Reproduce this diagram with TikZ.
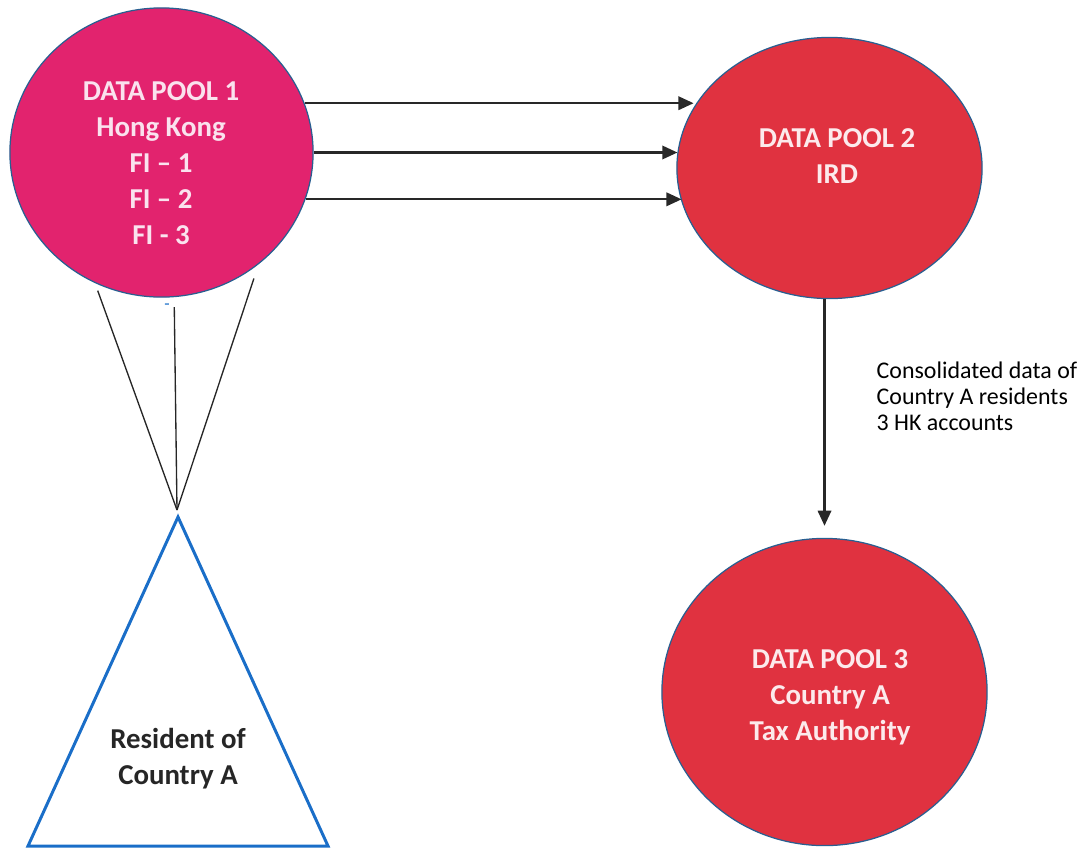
\documentclass[tikz,border=0pt]{standalone}
\usepackage{fontspec}
\setmainfont{Carlito}
\usetikzlibrary{shapes.geometric,arrows.meta}
\definecolor{poolpink}{RGB}{226,35,110}
\definecolor{poolred}{RGB}{224,50,64}
\definecolor{poolrim}{RGB}{40,95,145}
\definecolor{pinktext}{RGB}{250,226,238}
\definecolor{redtext}{RGB}{252,234,236}
\definecolor{triblue}{RGB}{26,110,200}
\definecolor{inkgray}{RGB}{40,40,40}
\tikzset{
  pool/.style={ellipse, draw=poolrim, line width=0.35pt, inner sep=0pt},
  pooltext/.style={align=center, inner sep=0pt, font=\fontsize{8.2}{10.2}\selectfont\bfseries},
  feed/.style={draw=inkgray, line width=0.65pt, -{Triangle[length=4.3pt,width=3.8pt]}},
  fan/.style={draw=black!85, line width=0.38pt}
}

\begin{document}
\begin{tikzpicture}[x=0.01cm, y=-0.01cm]
\useasboundingbox (0,0) rectangle (1091,848);

% the three data pools
\node[pool, fill=poolpink, minimum width=3.03cm, minimum height=2.89cm] (pool1) at (161.5,152.5) {};
\node[pool, fill=poolred, minimum width=3.05cm, minimum height=2.61cm] (pool2) at (829.5,168) {};
\node[pool, fill=poolred, minimum width=3.25cm, minimum height=3.07cm] (pool3) at (824.5,692) {};

\node[pooltext, text=pinktext] (txt1) at (161,163) {DATA POOL 1\\Hong Kong\\FI – 1\\FI – 2\\FI - 3};
\node[pooltext, text=redtext] (txt2) at (837,156) {DATA POOL 2\\IRD};
\node[pooltext, text=redtext] (txt3) at (830,697) {DATA POOL 3\\Country A\\Tax Authority};

% reporting to IRD
\draw[feed] (pool1.19) -- (pool1.19 -| pool2.156);
\draw[feed] (pool1.0) -- (pool1.0 -| pool2.174);
\draw[feed] (pool1.-18) -- (pool1.-18 -| pool2.193);

% exchange to country A
\draw[feed, shorten >=0.12cm] (pool3.north |- pool2.south) -- (pool3.north);
\node[align=left, anchor=north west, inner sep=0pt, font=\fontsize{6.8}{7.4}\selectfont] (note) at (876,361)
  {Consolidated data of\\Country A residents\\3 HK accounts};

% resident
\coordinate (meet) at (177,510);
\coordinate (top) at (178,517);
\coordinate (baseR) at (328,846);
\coordinate (baseL) at (28,846);
\draw[fan, shorten <=0.08cm] (pool1.243) -- (meet);
\draw[fan, shorten <=0.1cm] (pool1.275) -- (meet);
\draw[fan, shorten <=0.15cm] (pool1.311) -- (meet);
\node[text=triblue, inner sep=0pt, font=\fontsize{5}{5}\selectfont] (dash) at (167,307) {-};

\draw[triblue, line width=0.85pt] (top) -- (baseR) -- (baseL) -- cycle;
\node[pooltext, text=black!85] (res) at (178,759) {Resident of\\Country A};
\end{tikzpicture}
\end{document}
